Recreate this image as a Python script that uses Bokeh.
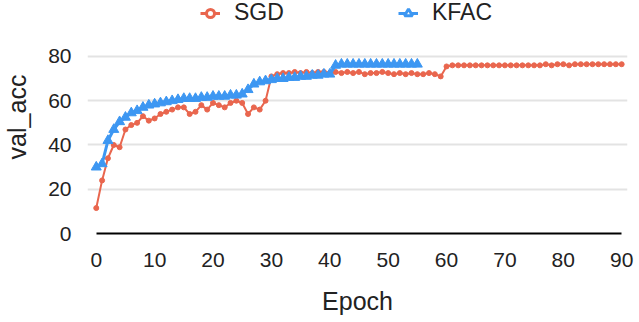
from bokeh.plotting import figure
from bokeh.models import Legend, LegendItem, ColumnDataSource, Range1d, FixedTicker
from bokeh.embed import file_html
from bokeh.resources import INLINE

sgd_epoch = list(range(0, 91))
sgd_acc = [11.5, 24, 34, 40, 39, 47, 49, 50, 53, 51,
           52, 54, 55, 56, 57, 57, 54, 55, 58, 56,
           59, 58, 57, 59, 60, 59, 54, 57, 56, 60,
           71, 72, 72.5, 72.5, 73, 72.5, 73, 72.5, 73, 73,
           72.5, 73, 72.5, 73, 72.5, 73, 72, 72.5, 72.5, 73,
           72.5, 72, 72.5, 72, 72.5, 72, 72, 72.5, 72, 71,
           75.5, 76, 76, 76, 76, 76, 76, 76, 76, 76,
           76, 76, 76, 76, 76, 76, 76, 76.5, 76, 76.5,
           76.5, 76, 76.5, 76.5, 76.5, 76.5, 76.5, 76.5, 76.5, 76.5, 76.5]

kfac_epoch = list(range(0, 56))
kfac_acc = [30, 31.5, 42, 47, 50.5, 52.5, 54.5, 55.5, 57, 58,
            58.5, 59, 59.5, 60, 60.5, 61, 61, 61, 61.5, 61.5,
            62, 62, 62, 62.5, 62.5, 63, 65, 67.5, 68.5, 69,
            69.5, 70, 70, 70.5, 70.5, 71, 71, 71.5, 71.5, 72,
            72, 76, 76.5, 76.5, 76.5, 76.5, 76.5, 76.5, 76.5, 76.5,
            76.5, 76.5, 76.5, 76.5, 76.5, 76.5]

x_ticks = [0, 10, 20, 30, 40, 50, 60, 70, 80, 90]
y_ticks = [0, 20, 40, 60, 80]
series_names = ["SGD", "KFAC"]
x_title = "Epoch"
y_title = "val_acc"

SGD_C = "#E9664E"
KFAC_C = "#3D97F2"
FONT = "Liberation Sans"
TXT = "#222222"

FW, FH = 540, 233
p = figure(frame_width=FW, frame_height=FH, output_backend="svg", toolbar_location=None,
           x_range=Range1d(-1.5, 91), y_range=Range1d(0, 105.3),
           min_border_left=87, min_border_right=12, min_border_top=0, min_border_bottom=89)
p.outline_line_color = None

sgd = ColumnDataSource(dict(x=sgd_epoch, y=sgd_acc))
kfac = ColumnDataSource(dict(x=kfac_epoch, y=kfac_acc))

p.line("x", "y", source=sgd, line_color=SGD_C, line_width=2)
p.scatter("x", "y", source=sgd, marker="circle", size=5, color=SGD_C)
p.line("x", "y", source=kfac, line_color=KFAC_C, line_width=3)
p.scatter("x", "y", source=kfac, marker="triangle", size=10, color=KFAC_C)

# legend-only renderers: drawn on a range far away, so nothing shows in the plot
p.extra_x_ranges = {"legend_only": Range1d(1000, 1001)}
l1 = p.line("x", "y", source=sgd, x_range_name="legend_only", line_color=SGD_C, line_width=3)
m1 = p.scatter("x", "y", source=sgd, x_range_name="legend_only", marker="circle", size=11,
               line_color=SGD_C, fill_color="white", line_width=3)
l2 = p.line("x", "y", source=kfac, x_range_name="legend_only", line_color=KFAC_C, line_width=3)
m2 = p.scatter("x", "y", source=kfac, x_range_name="legend_only", marker="triangle", size=13,
               line_color=KFAC_C, fill_color="white", line_width=3)

legend = Legend(items=[LegendItem(label=series_names[0], renderers=[l1, m1]),
                       LegendItem(label=series_names[1], renderers=[l2, m2])],
                orientation="horizontal", location=(113, FH - 26),
                border_line_color=None, background_fill_alpha=0,
                label_text_font=FONT, label_text_font_size="23px",
                label_text_color=TXT,
                glyph_width=20, glyph_height=20, label_height=20, label_standoff=14,
                label_width=150, spacing=14, padding=0, margin=0)
p.add_layout(legend, "center")

p.xaxis.ticker = FixedTicker(ticks=x_ticks)
p.yaxis.ticker = FixedTicker(ticks=y_ticks)
p.xaxis.bounds = (0, 90)
p.xaxis.axis_line_color = "black"
p.xaxis.axis_line_width = 2
p.yaxis.axis_line_color = None
for ax in (p.xaxis, p.yaxis):
    ax.major_tick_line_color = None
    ax.minor_tick_line_color = None
    ax.major_label_text_font = FONT
    ax.major_label_text_font_size = "21px"
    ax.major_label_text_color = TXT
    ax.axis_label_text_font = FONT
    ax.axis_label_text_font_size = "25px"
    ax.axis_label_text_font_style = "normal"
    ax.axis_label_text_color = TXT
p.xaxis.axis_label = x_title
p.yaxis.axis_label = y_title
p.xaxis.major_label_standoff = 13
p.xaxis.axis_label_standoff = 17
p.yaxis.major_label_standoff = 10
p.yaxis.axis_label_standoff = 14

p.xgrid.visible = False
p.ygrid.grid_line_color = "#e3e3e3"
p.ygrid.grid_line_width = 2
p.ygrid.bounds = (0, 90)

open("out.html", "w").write(file_html(p, INLINE))
